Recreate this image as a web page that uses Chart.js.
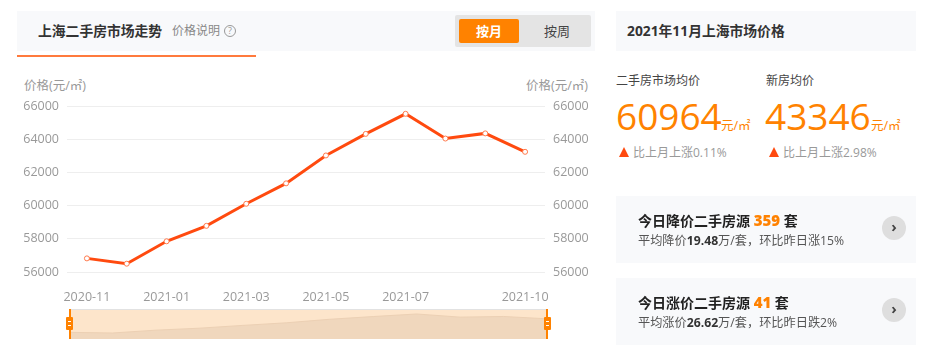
<!DOCTYPE html>
<html lang="zh-CN">
<head>
<meta charset="utf-8">
<title>上海二手房市场走势</title>
<script src="https://cdn.jsdelivr.net/npm/chart.js@4"></script>
<style>
  html, body { margin: 0; padding: 0; background: #fff; }
  body { width: 947px; height: 357px; position: relative; overflow: hidden; font-family: "Open Sans", "Noto Sans CJK SC", sans-serif; color: #333; }
  .abs { position: absolute; white-space: nowrap; }
  .panel { position: absolute; background: #f8f9fb; }
  .muted { color: #999; font-size: 12px; line-height: 16px; }
  .big { color: #ff8200; font-size: 37px; line-height: 44px; }
  .unit { color: #ff8200; font-size: 12.5px; line-height: 16px; }
  .tri { position: absolute; width: 0; height: 0; border-left: 5px solid transparent; border-right: 5px solid transparent; border-bottom: 10px solid #ff4a0f; }
  .card-title { font-size: 14px; font-weight: 700; color: #222; line-height: 20px; }
  .card-title b { color: #ff8200; font-size: 15px; }
  .card-sub { font-size: 12.2px; color: #555; line-height: 18px; }
  .card-sub b { color: #333; }
  .go { position: absolute; width: 24px; height: 24px; border-radius: 50%; background: #dedede; color: #444; text-align: center; font-size: 15px; line-height: 21px; font-weight: 700; }
  .handle { position: absolute; width: 7px; height: 13px; top: 317px; background: #ff8200; border-radius: 1px; }
  .handle::before, .handle::after { content: ""; position: absolute; left: 2px; width: 3px; height: 1px; background: #fff; }
  .handle::before { top: 4px; }
  .handle::after { top: 8px; }
  .handle-line { position: absolute; width: 2px; top: 309px; height: 30px; background: #ff8200; }
</style>
</head>
<body>
  <div class="panel" style="left:17px;top:11px;width:578px;height:40px"></div>
  <div class="abs" style="left:17px;top:55px;width:239px;height:2px;background:#ff7a3d"></div>
  <div class="abs" style="left:38px;top:21px;font-size:13.8px;font-weight:700;color:#333;line-height:20px">上海二手房市场走势</div>
  <div class="abs muted" style="left:172px;top:23px;color:#888">价格说明</div>
  <div class="abs" style="left:224px;top:25px;width:10px;height:10px;border:1px solid #999;border-radius:50%;color:#999;font-size:9px;line-height:10px;text-align:center">?</div>
  <div class="abs" style="left:455px;top:15px;width:136px;height:32px;background:#e4e4e4;border-radius:2px"></div>
  <div class="abs" style="left:459px;top:19px;width:60px;height:24px;background:#ff8200;border-radius:2px;color:#fff;font-size:13px;font-weight:700;line-height:24px;text-align:center">按月</div>
  <div class="abs" style="left:527px;top:19px;width:60px;height:24px;color:#444;font-size:13px;line-height:24px;text-align:center">按周</div>

  <div class="abs muted" style="left:24px;top:78px;color:#999;font-size:12.5px">价格(元/㎡)</div>
  <div class="abs muted" style="left:526px;top:78px;color:#999;font-size:12.5px">价格(元/㎡)</div>

  <div class="abs" style="left:0;top:90px;width:600px;height:215px"><canvas id="price-chart"></canvas></div>
  <div class="abs" style="left:69px;top:309px;width:478px;height:30px"><canvas id="slider-chart"></canvas></div>
  <div class="handle-line" style="left:69px"></div>
  <div class="handle-line" style="left:546px"></div>
  <div class="handle" style="left:66px"></div>
  <div class="handle" style="left:544px"></div>

  <div class="panel" style="left:616px;top:11px;width:300px;height:40px"></div>
  <div class="abs" style="left:627px;top:21px;font-size:13.8px;font-weight:700;color:#333;line-height:20px">2021年11月上海市场价格</div>

  <div class="abs" style="left:616px;top:73px;font-size:12px;line-height:16px;color:#444">二手房市场均价</div>
  <div class="abs big" style="left:616px;top:94px">60964</div>
  <div class="abs unit" style="left:721px;top:118px">元/㎡</div>
  <div class="tri" style="left:619px;top:147px"></div>
  <div class="abs muted" style="left:633px;top:145px">比上月上涨0.11%</div>

  <div class="abs" style="left:766px;top:73px;font-size:12px;line-height:16px;color:#444">新房均价</div>
  <div class="abs big" style="left:765px;top:94px">43346</div>
  <div class="abs unit" style="left:871px;top:118px">元/㎡</div>
  <div class="tri" style="left:769px;top:147px"></div>
  <div class="abs muted" style="left:783px;top:145px">比上月上涨2.98%</div>

  <div class="panel" style="left:616px;top:196px;width:300px;height:67px"></div>
  <div class="abs card-title" style="left:638px;top:210px">今日降价二手房源 <b>359</b> 套</div>
  <div class="abs card-sub" style="left:638px;top:232px">平均降价<b>19.48</b>万/套，环比昨日涨15%</div>
  <div class="go" style="left:882px;top:216px">›</div>

  <div class="panel" style="left:616px;top:278px;width:300px;height:67px"></div>
  <div class="abs card-title" style="left:638px;top:292px">今日涨价二手房源 <b>41</b> 套</div>
  <div class="abs card-sub" style="left:638px;top:314px">平均涨价<b>26.62</b>万/套，环比昨日跌2%</div>
  <div class="go" style="left:882px;top:298px">›</div>

<script>
const months = ['2020-11', '2020-12', '2021-01', '2021-02', '2021-03', '2021-04', '2021-05', '2021-06', '2021-07', '2021-08', '2021-09', '2021-10'];
const prices = [56820, 56500, 57850, 58780, 60110, 61340, 63020, 64320, 65530, 64040, 64350, 63240];
const shownMonths = ['2020-11', '2021-01', '2021-03', '2021-05', '2021-07', '2021-10'];
const priceMin = 56000;
const priceMax = 66000;
const priceStep = 2000;

const tickFont = { family: '"Open Sans", "Noto Sans CJK SC", sans-serif', size: 12.5 };

new Chart(document.getElementById('price-chart').getContext('2d'), {
  type: 'line',
  data: {
    labels: months,
    datasets: [
      {
        data: prices,
        yAxisID: 'y',
        borderColor: '#ff4a0f',
        borderWidth: 3,
        pointRadius: 2.5,
        pointBorderWidth: 1,
        pointBackgroundColor: '#fff',
        pointBorderColor: '#ff7a4d',
        tension: 0,
      },
    ],
  },
  options: {
    responsive: true,
    maintainAspectRatio: false,
    animation: false,
    layout: { padding: { top: 16 } },
    plugins: { legend: { display: false }, tooltip: { enabled: false } },
    scales: {
      x: {
        offset: true,
        grid: { display: false },
        border: { display: false },
        afterFit: (scale) => { scale.height = 33; },
        ticks: {
          color: '#999',
          font: tickFont,
          padding: 10,
          autoSkip: false,
          maxRotation: 0,
          callback: function (value) {
            const label = this.getLabelForValue(value);
            return shownMonths.includes(label) ? label : '';
          },
        },
      },
      y: {
        position: 'left',
        min: priceMin,
        max: priceMax,
        grid: { color: '#eeeeee', drawTicks: false },
        border: { display: false },
        afterFit: (scale) => { scale.width = 67; },
        ticks: { color: '#999', font: tickFont, stepSize: priceStep, padding: 8, callback: (value) => String(value) },
      },
      y2: {
        display: true,
        position: 'right',
        min: priceMin,
        max: priceMax,
        grid: { display: false, drawTicks: false },
        border: { display: false },
        afterFit: (scale) => { scale.width = 55; },
        ticks: { color: '#999', font: tickFont, stepSize: priceStep, padding: 8, callback: (value) => String(value) },
      },
    },
  },
});

// the range slider under the chart, same series as a filled area
new Chart(document.getElementById('slider-chart').getContext('2d'), {
  type: 'line',
  data: {
    labels: months,
    datasets: [
      {
        data: prices,
        borderColor: '#ecd0b4',
        borderWidth: 1,
        pointRadius: 0,
        fill: 'start',
        backgroundColor: '#f0d7bd',
        tension: 0,
      },
    ],
  },
  plugins: [
    {
      id: 'sliderBackground',
      beforeDraw: (chart) => {
        const { ctx, width, height } = chart;
        ctx.save();
        ctx.fillStyle = '#fde5cb';
        ctx.fillRect(0, 0, width, height);
        ctx.fillStyle = '#e2e2e2';
        ctx.fillRect(0, 0, width, 1);
        ctx.restore();
      },
    },
  ],
  options: {
    responsive: true,
    maintainAspectRatio: false,
    animation: false,
    plugins: { legend: { display: false }, tooltip: { enabled: false } },
    scales: {
      x: { display: false, offset: false },
      y: { display: false, min: 53650, max: 67900 },
    },
  },
});
</script>
</body>
</html>
